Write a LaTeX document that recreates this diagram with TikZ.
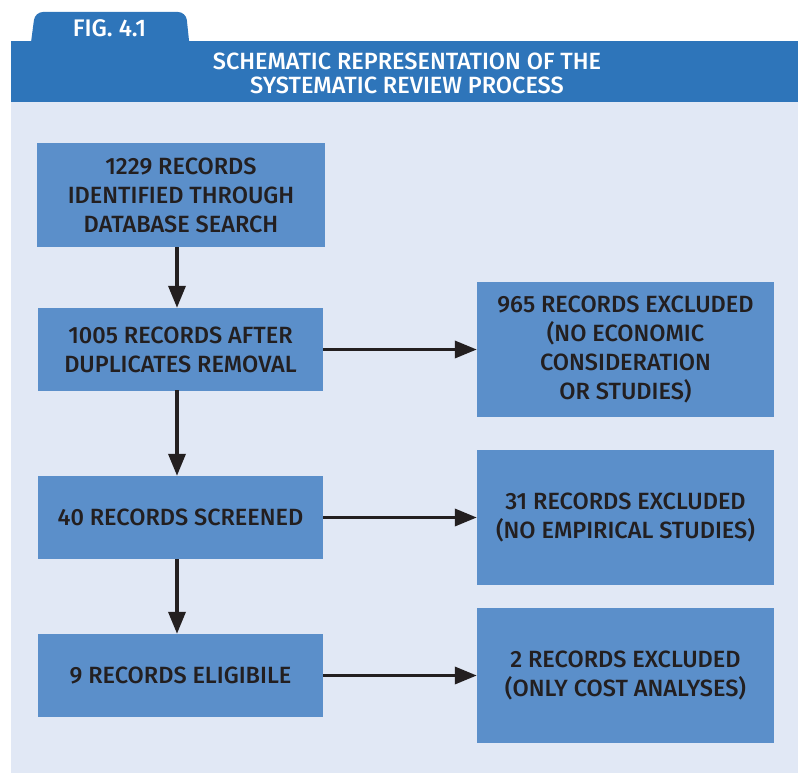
\documentclass[tikz,border=0pt]{standalone}
\usepackage{fontspec}
\setmainfont{Fira Sans}[UprightFont=* Medium, BoldFont=* SemiBold]
\usetikzlibrary{arrows.meta}
\definecolor{hdrblue}{HTML}{2E75BA}
\definecolor{boxblue}{HTML}{5B8FCA}
\definecolor{panel}{HTML}{E1E8F5}
\definecolor{ink}{HTML}{231F20}
\tikzset{
  stepbox/.style={fill=boxblue, draw=none, align=center, text=ink,
    font=\fontsize{23.5}{29}\selectfont, inner sep=0pt},
  leftbox/.style={stepbox, minimum width=285pt, minimum height=83pt},
  rightbox/.style={stepbox, minimum width=297pt, minimum height=135pt},
  flow/.style={draw=ink, line width=3.5pt, -{Triangle[length=22pt,width=17pt]}}
}
\begin{document}
\begin{tikzpicture}[x=1pt,y=-1pt]
\useasboundingbox (0,0) rectangle (798,773);
% tab
\fill[hdrblue, rounded corners=8pt] (30,50) -- (35,12) -- (186,12) -- (190,50) -- cycle;
% header band and panel
\fill[hdrblue] (11,41) rectangle (798,102);
\fill[panel] (11,102) rectangle (798,773);
\node[text=white, font=\fontsize{24}{24}\selectfont] (fig) at (109.5,28) {FIG. 4.1};
\node[text=white, align=center, font=\fontsize{23.5}{24}\selectfont] (title) at (407,73)
  {SCHEMATIC REPRESENTATION OF THE\\SYSTEMATIC REVIEW PROCESS};
% boxes
\node[stepbox, minimum width=288pt, minimum height=104pt] (b1) at (181,195)
  {1229 RECORDS\\IDENTIFIED THROUGH\\DATABASE SEARCH};
\node[leftbox] (b2) at (180.5,349.5) {1005 RECORDS AFTER\\DUPLICATES REMOVAL};
\node[leftbox] (b3) at (180.5,517.5) {40 RECORDS SCREENED};
\node[leftbox] (b4) at (180.5,675.5) {9 RECORDS ELIGIBILE};
\node[rightbox] (r1) at (625.5,349.5) {965 RECORDS EXCLUDED\\(NO ECONOMIC\\CONSIDERATION\\OR STUDIES)};
\node[rightbox] (r2) at (625.5,517.5) {31 RECORDS EXCLUDED\\(NO EMPIRICAL STUDIES)};
\node[rightbox] (r3) at (625.5,675.5) {2 RECORDS EXCLUDED\\(ONLY COST ANALYSES)};
% arrows
\draw[flow] ([xshift=-4pt]b1.south) -- ([xshift=-3.5pt]b2.north);
\draw[flow] ([xshift=-3.5pt,yshift=1pt]b2.south) -- ([xshift=-3.5pt]b3.north);
\draw[flow] ([xshift=-3.5pt]b3.south) -- ([xshift=-3.5pt]b4.north);
\draw[flow] (b2.east) -- (r1.west);
\draw[flow] (b3.east) -- (r2.west);
\draw[flow] (b4.east) -- (r3.west);
\end{tikzpicture}
\end{document}
